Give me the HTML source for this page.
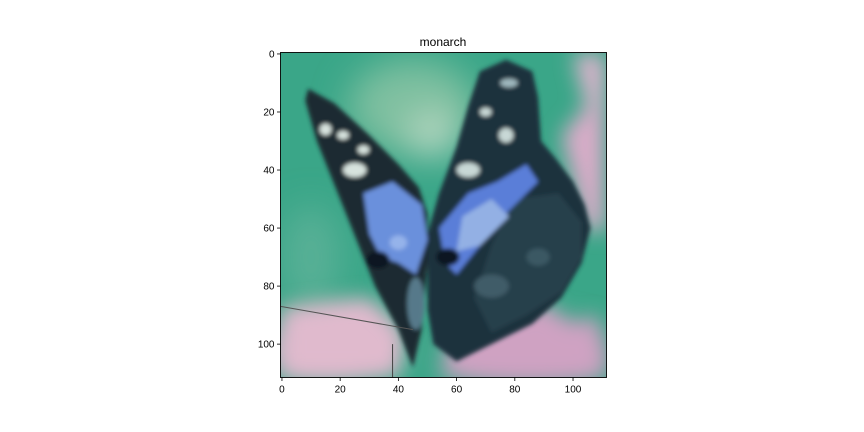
<!DOCTYPE html>
<html><head><meta charset="utf-8"><style>
html,body{margin:0;padding:0;background:#fff;}
svg{display:block;font-family:"Liberation Sans","DejaVu Sans",sans-serif;}
</style></head><body>
<svg id="chart" width="864" height="432" viewBox="0 0 864 432">
<defs>
<filter id="b1" x="-20%" y="-20%" width="140%" height="140%"><feGaussianBlur stdDeviation="0.7"/></filter>
<filter id="b4" x="-30%" y="-30%" width="160%" height="160%"><feGaussianBlur stdDeviation="3.5"/></filter>
<filter id="b6" x="-30%" y="-30%" width="160%" height="160%"><feGaussianBlur stdDeviation="6"/></filter>
<clipPath id="clip"><rect x="-0.5" y="-0.5" width="112" height="112"/></clipPath>
</defs>
<text x="443" y="46" text-anchor="middle" font-size="12" fill="#000">monarch</text>
<g id="img" clip-path="url(#clip)">
  <rect x="-0.5" y="-0.5" width="112" height="112" fill="#3aa688"/>
  <g filter="url(#b6)">
    <ellipse cx="45" cy="18" rx="22" ry="16" fill="#7fc0a0"/>
    <ellipse cx="52" cy="28" rx="9" ry="8" fill="#b2d6c0"/>
    <ellipse cx="10" cy="70" rx="10" ry="18" fill="#58b096"/>
    <ellipse cx="15" cy="102" rx="22" ry="10" fill="#dbb6cb"/>
    <ellipse cx="85" cy="104" rx="28" ry="10" fill="#c89dbd"/>
  </g>
  <g filter="url(#b4)">
    <polygon points="96,28 111,10 111,62 104,60 100,44" fill="#d8acc8"/>
    <polygon points="100,0 111,0 111,20 104,16" fill="#dcb3cc"/>
    <polygon points="0,88 30,84 42,96 40,111 0,111" fill="#e0bacd"/>
    <polygon points="60,96 90,86 100,94 108,90 111,111 55,111" fill="#cfa2c2"/>
  </g>
  <g filter="url(#b1)">
    <polygon points="9,12 18,17 30,28 40,38 47,46 50,55 50,72 48,95 45,108 40,95 32,80 24,60 18,45 12,30 8,16" fill="#1a2932"/>
    <polygon points="68,6 77,2 86,6 88,15 89,30 94,36 100,44 104,52 106,60 103,72 96,84 86,93 72,100 60,106 52,100 50,88 50,62 54,48 60,32 64,18" fill="#1d323d"/>
    <polygon points="80,50 95,48 103,58 103,70 96,82 84,90 72,96 66,84 72,66" fill="#27404b"/>
    <polygon points="28,48 38,44 48,52 50,64 46,76 40,72 34,70 30,62" fill="#6b90dc"/>
    <polygon points="54,60 64,48 74,44 84,38 88,44 78,54 68,66 60,76 56,72" fill="#5a7ed8"/>
    <polygon points="62,56 72,50 78,56 68,66 60,68" fill="#93b0e4"/>
    <ellipse cx="33" cy="71" rx="4" ry="3" fill="#0a1520"/>
    <ellipse cx="57" cy="70" rx="4" ry="3" fill="#0a1520"/>
    <ellipse cx="40" cy="65" rx="3" ry="2.5" fill="#95b3ea"/>
    <ellipse cx="25" cy="40" rx="4" ry="2.5" fill="#d7e3de"/>
    <ellipse cx="21" cy="28" rx="2" ry="1.5" fill="#d7e3de"/>
    <ellipse cx="28" cy="33" rx="2" ry="1.5" fill="#d7e3de"/>
    <ellipse cx="15" cy="26" rx="2" ry="2" fill="#d7e3de"/>
    <ellipse cx="64" cy="40" rx="4" ry="2.5" fill="#c8d8d6"/>
    <ellipse cx="77" cy="28" rx="2.5" ry="2.5" fill="#c8d8d6"/>
    <ellipse cx="70" cy="20" rx="2" ry="1.5" fill="#c8d8d6"/>
    <ellipse cx="78" cy="10" rx="3" ry="1.5" fill="#9fb8be"/>
    <ellipse cx="46" cy="86" rx="3" ry="9" fill="#56798a"/>
    <ellipse cx="72" cy="80" rx="6" ry="4" fill="#3f5c68"/>
    <ellipse cx="88" cy="70" rx="4" ry="3" fill="#3a5864"/>
  </g>
  <line x1="-0.5" y1="87" x2="45" y2="95" stroke="#555" stroke-width="0.35"/>
  <line x1="38" y1="100" x2="38" y2="111.5" stroke="#444" stroke-width="0.35"/>
</g>
<rect x="280.5" y="52.5" width="326" height="325" fill="none" stroke="#000" stroke-width="0.9"/>
<g id="xaxis"></g>
<g id="yaxis"></g>
</svg>
<script>
const xTicks = [0, 20, 40, 60, 80, 100];
const yTicks = [0, 20, 40, 60, 80, 100];
const imgSize = [112, 112];
const L = 280.5, T = 52.5, W = 326, H = 325;
const sx = v => L + (v + 0.5) / imgSize[0] * W;
const sy = v => T + (v + 0.5) / imgSize[1] * H;
const NS = "http://www.w3.org/2000/svg";
document.getElementById('img').setAttribute('transform',
  `translate(${sx(0) - 0.5 * W / imgSize[0]},${sy(0) - 0.5 * H / imgSize[1]}) scale(${W / imgSize[0]},${H / imgSize[1]}) translate(0.5,0.5)`);
const gx = document.getElementById('xaxis'), gy = document.getElementById('yaxis');
xTicks.forEach(t => {
  const l = document.createElementNS(NS, 'line');
  l.setAttribute('x1', sx(t)); l.setAttribute('x2', sx(t));
  l.setAttribute('y1', T + H); l.setAttribute('y2', T + H + 3.5);
  l.setAttribute('stroke', '#000'); l.setAttribute('stroke-width', '0.8');
  
  
  gx.appendChild(l);
  const tx = document.createElementNS(NS, 'text');
  tx.setAttribute('x', sx(t)); tx.setAttribute('y', T + H + 15);
  tx.setAttribute('text-anchor', 'middle'); tx.setAttribute('font-size', '10');
  tx.textContent = t;
  
  
  gx.appendChild(tx);
});
yTicks.forEach(t => {
  const l = document.createElementNS(NS, 'line');
  l.setAttribute('x1', L - 3.5); l.setAttribute('x2', L);
  l.setAttribute('y1', sy(t)); l.setAttribute('y2', sy(t));
  l.setAttribute('stroke', '#000'); l.setAttribute('stroke-width', '0.8');
  
  
  gy.appendChild(l);
  const tx = document.createElementNS(NS, 'text');
  tx.setAttribute('x', L - 6); tx.setAttribute('y', sy(t) + 3.5);
  tx.setAttribute('text-anchor', 'end'); tx.setAttribute('font-size', '10');
  tx.textContent = t;
  
  
  gy.appendChild(tx);
});
</script>
</body></html>
